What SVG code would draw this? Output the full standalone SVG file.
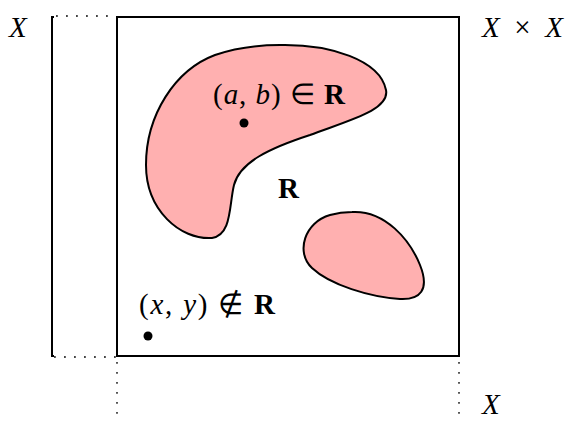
<svg xmlns="http://www.w3.org/2000/svg" width="566" height="421" viewBox="0 0 566 421">
<style>
.t{font-family:"Liberation Serif","Times New Roman",serif;font-size:29px;fill:#000}
.i{font-style:italic}
.b{font-weight:bold}
.dot{stroke:#444;stroke-width:1.8;stroke-dasharray:1.8 8.2;fill:none}
.blob{fill:#ffb0b0;stroke:#000;stroke-width:2}
</style>
<rect width="566" height="421" fill="#fff"/>
<g id="connectors">
<line class="dot" x1="56" y1="16" x2="116" y2="16"/>
<line class="dot" x1="54" y1="357" x2="116" y2="357"/>
<line class="dot" x1="117" y1="362" x2="117" y2="421"/>
<line class="dot" x1="459" y1="362" x2="459" y2="421"/>
<polyline points="54,17 52,17 52,356 54,356" fill="none" stroke="#000" stroke-width="2"/>
</g>
<g id="square"><rect x="117" y="17" width="342" height="339" fill="none" stroke="#000" stroke-width="2"/></g>
<g id="blob1"><path class="blob" d="M 280 45 C 330 44, 380 60, 386 90 C 390 110, 350 120, 310 135 C 270 148, 240 162, 234 185 C 229 205, 232 235, 212 238 C 180 240, 146 210, 146 165 C 146 115, 175 70, 215 55 C 235 48, 255 45, 280 45 Z"/></g>
<g id="blob2"><path class="blob" d="M 352 212 C 385 210, 410 240, 420 265 C 430 290, 420 300, 400 299 C 370 297, 330 285, 312 268 C 295 252, 305 222, 330 215 C 337 213, 344 212, 352 212 Z"/></g>
<g id="labels">
<text class="t i" x="9" y="37">X</text>
<text class="t" x="482" y="37" textLength="81" lengthAdjust="spacing"><tspan class="i">X</tspan> × <tspan class="i">X</tspan></text>
<text class="t i" x="482" y="414">X</text>
<text class="t" x="213" y="104" textLength="132" lengthAdjust="spacing">(<tspan class="i">a</tspan>, <tspan class="i">b</tspan>) ∈ <tspan class="b">R</tspan></text>
<text class="t b" x="278" y="198">R</text>
<text class="t" x="139" y="314" textLength="136" lengthAdjust="spacing">(<tspan class="i">x</tspan>, <tspan class="i">y</tspan>) ∉ <tspan class="b">R</tspan></text>
</g>
<g id="points">
<circle cx="244" cy="123" r="4.5" fill="#000"/>
<circle cx="148" cy="336" r="4.5" fill="#000"/>
</g>
</svg>
